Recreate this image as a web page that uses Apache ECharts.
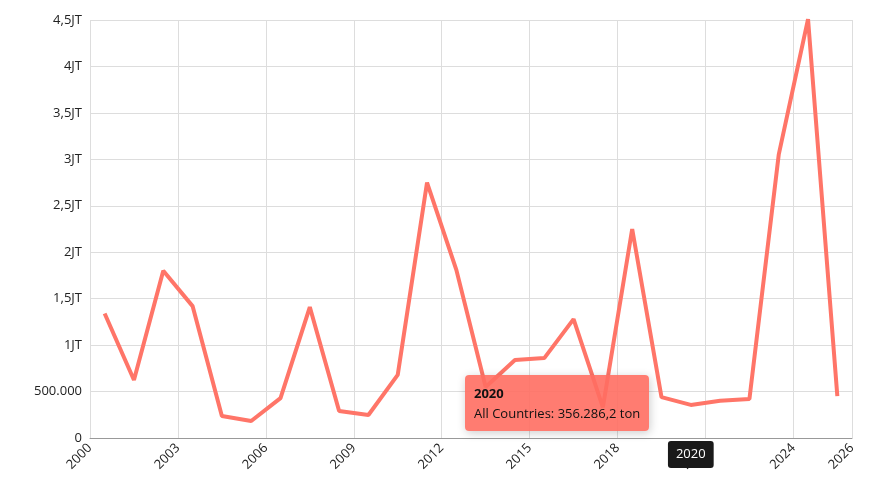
<!DOCTYPE html>
<html><head><meta charset="utf-8">
<script src="https://cdn.jsdelivr.net/npm/echarts@6/dist/echarts.min.js"></script>
<style>html,body{margin:0;padding:0;background:#fff}#c{width:873px;height:500px}</style>
</head><body><div id="c"></div>
<script>
const years = [2000,2001,2002,2003,2004,2005,2006,2007,2008,2009,2010,2011,2012,2013,2014,2015,2016,2017,2018,2019,2020,2021,2022,2023,2024,2025];
const values = [1340000,625000,1800000,1420000,237000,183000,430000,1410000,290000,248000,680000,2750000,1810000,550000,840000,860000,1280000,330000,2250000,440000,356286.2,400000,420000,3050000,4510000,450000];
const seriesName = 'All Countries';
const unit = 'ton';

function fmtNum(v){
  const parts = v.toFixed(1).split('.');
  const intp = parts[0].replace(/\B(?=(\d{3})+(?!\d))/g,'.');
  return parts[1]==='0' ? intp : intp+','+parts[1];
}
function fmtAxis(v){
  if (v>=1000000) return String(v/1000000).replace('.',',')+'JT';
  return String(v).replace(/\B(?=(\d{3})+(?!\d))/g,'.');
}
const font = 'Open Sans';
const chart = echarts.init(document.getElementById('c'));
chart.setOption({
  animation:false,
  textStyle:{fontFamily:font},
  grid:{left:90,right:21,top:20,bottom:62},
  xAxis:{type:'value',min:2000,max:2026,interval:3,
    axisLine:{lineStyle:{color:'#999'}},axisTick:{show:false},
    splitLine:{lineStyle:{color:'#ddd'}},
    axisLabel:{color:'#222',fontSize:13,rotate:45,formatter:v=>String(v)},
    axisPointer:{show:true,type:'line',lineStyle:{opacity:0},
      label:{show:true,backgroundColor:'#1a1a1a',color:'#fff',fontSize:13,padding:[7,8],
        formatter:p=>String(Math.floor(p.value))}}},
  yAxis:{type:'value',min:0,max:4500000,interval:500000,
    axisLine:{show:false},axisTick:{show:false},
    splitLine:{lineStyle:{color:'#ddd'}},
    axisLabel:{color:'#222',fontSize:13,formatter:fmtAxis}},
  tooltip:{trigger:'axis',backgroundColor:'rgba(255,110,98,0.9)',borderWidth:0,
    padding:[8,9],textStyle:{color:'#fff',fontSize:13,fontFamily:font},
    position:(pt)=>[pt[0]-226,pt[1]-30],
    formatter:ps=>{const p=ps[0];return '<b style="color:#111">'+Math.floor(p.value[0])+'</b><br/><span style="color:#111">'+seriesName+': '+fmtNum(p.value[1])+' '+unit+'</span>';}},
  series:[{name:seriesName,type:'line',symbol:'none',
    lineStyle:{color:'#ff6b5f',width:4},itemStyle:{color:'#ff6b5f'},
    data:years.map((y,i)=>[y+0.5,values[i]])}]
});
chart.dispatchAction({type:'showTip',seriesIndex:0,dataIndex:20});
</script></body></html>
